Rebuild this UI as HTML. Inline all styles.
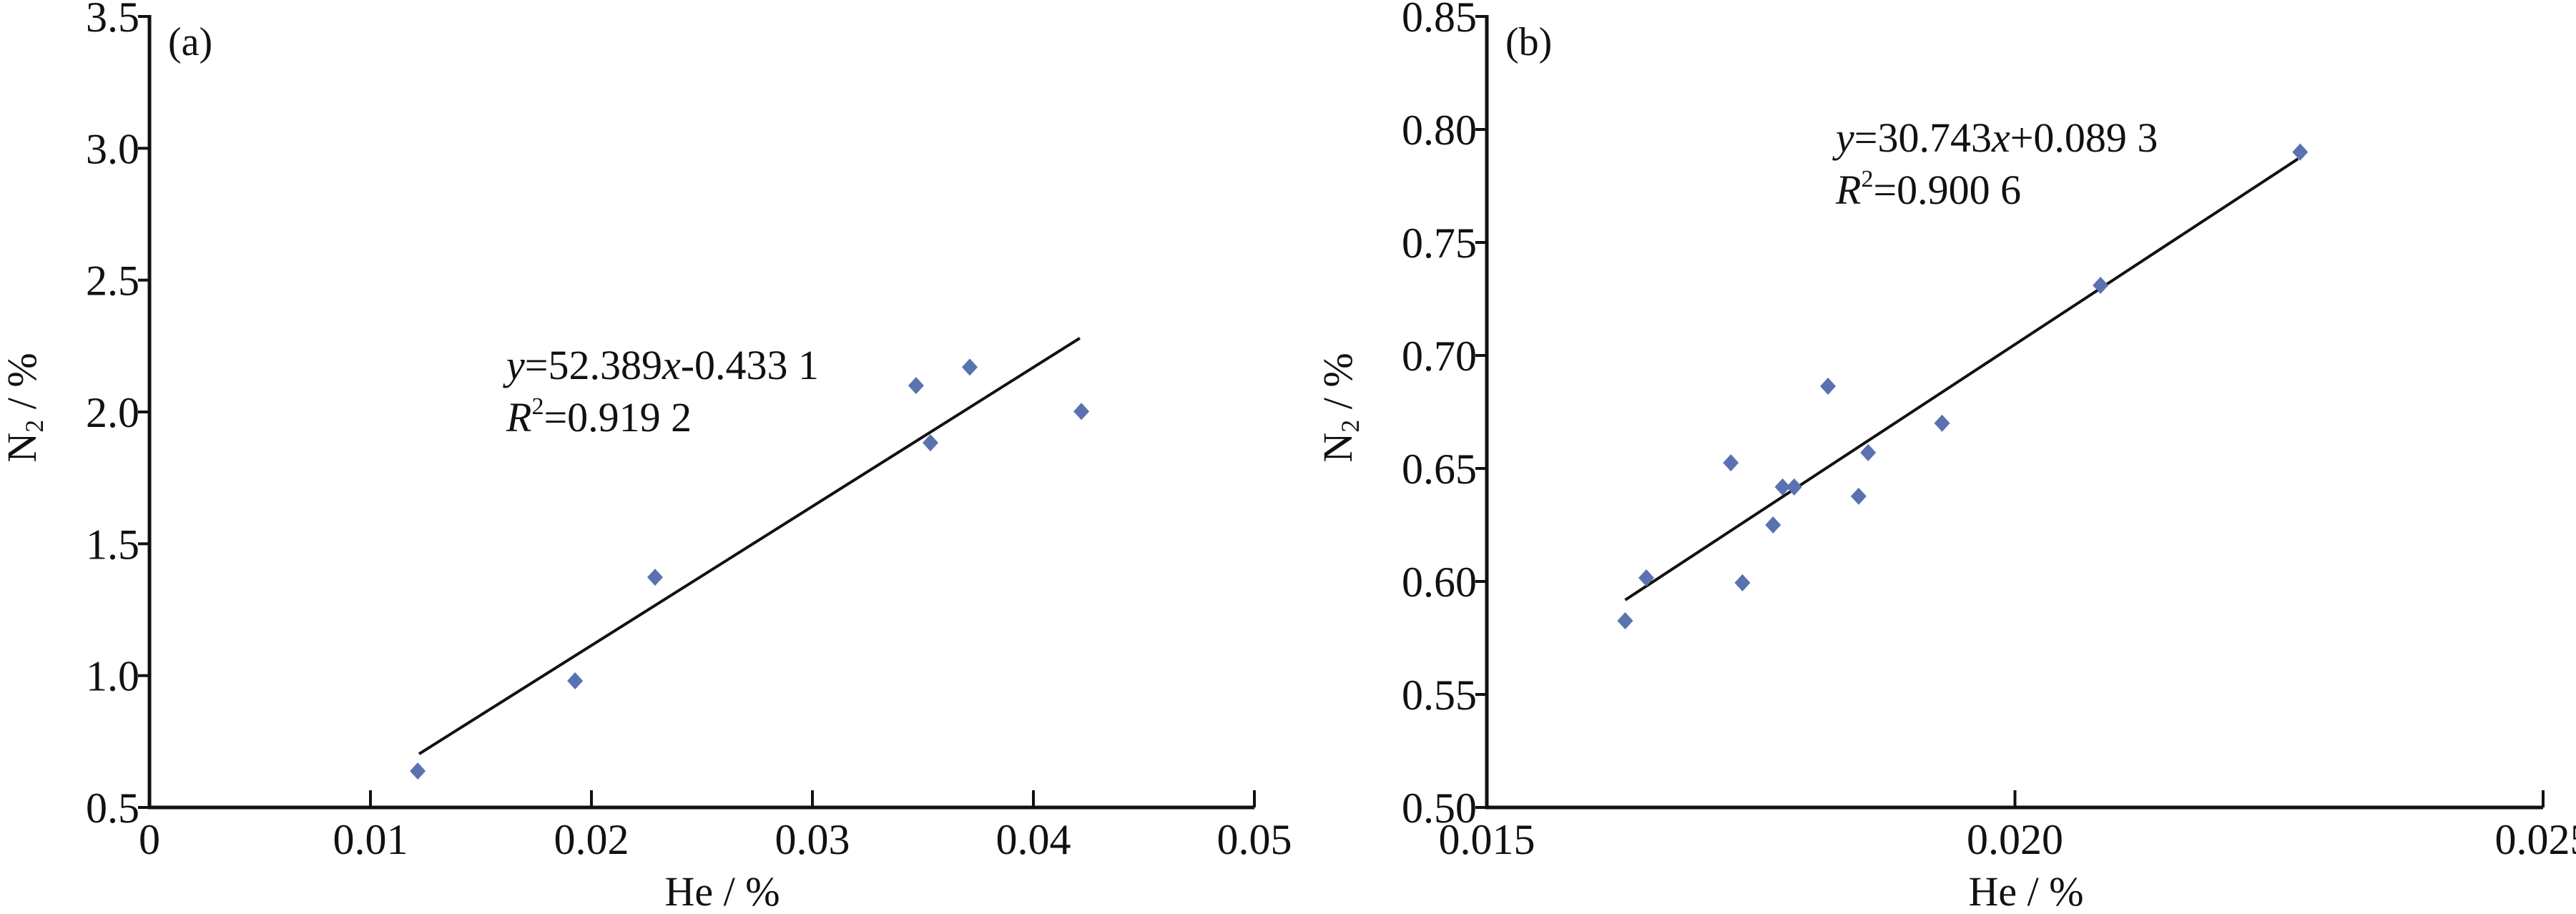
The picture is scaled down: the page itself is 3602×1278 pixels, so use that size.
<!DOCTYPE html>
<html><head><meta charset="utf-8"><style>
html,body{margin:0;padding:0;background:#fff}
svg{display:block}
text{font-family:"Liberation Serif",serif;fill:#111}
</style></head><body>
<svg id="chart" width="3602" height="1278" viewBox="0 0 3602 1278"></svg>
<script>
// Panel (a)
const aHe=[0.01214,0.01926,0.02288,0.03469,0.03534,0.03712,0.04217];
const aN2=[0.638,0.98,1.373,2.10,1.883,2.17,2.002];
const aFitX=[0.0122,0.0421];
const aFitY=[0.703,2.28];
const aXTicks=[0,0.01,0.02,0.03,0.04,0.05];
const aXLabels=["0","0.01","0.02","0.03","0.04","0.05"];
const aYTicks=[0.5,1.0,1.5,2.0,2.5,3.0,3.5];
const aYLabels=["0.5","1.0","1.5","2.0","2.5","3.0","3.5"];
// Panel (b)
const bHe=[0.01631,0.01651,0.01731,0.01742,0.01771,0.01780,0.01791,0.01823,0.01852,0.01861,0.01931,0.02081,0.02270];
const bN2=[0.5826,0.6016,0.6525,0.5994,0.625,0.6418,0.6418,0.6864,0.6377,0.657,0.670,0.731,0.790];
const bFitX=[0.01631,0.02268];
const bFitY=[0.5918,0.787];
const bXTicks=[0.015,0.020,0.025];
const bXLabels=["0.015","0.020","0.025"];
const bYTicks=[0.50,0.55,0.60,0.65,0.70,0.75,0.80,0.85];
const bYLabels=["0.50","0.55","0.60","0.65","0.70","0.75","0.80","0.85"];

const NS="http://www.w3.org/2000/svg";
const svg=document.getElementById('chart');
function mk(tag,attrs,parent){const e=document.createElementNS(NS,tag);for(const k in attrs)e.setAttribute(k,attrs[k]);(parent||svg).appendChild(e);return e;}

function panel(cfg){
  const g=mk('g',{});
  
  
  const sx=v=>cfg.x0+(v-cfg.xmin)/(cfg.xmax-cfg.xmin)*(cfg.x1-cfg.x0);
  const sy=v=>cfg.y0-(v-cfg.ymin)/(cfg.ymax-cfg.ymin)*(cfg.y0-cfg.y1);
  // axes
  const ax=mk('path',{d:`M${cfg.x0},${cfg.y1-2} L${cfg.x0},${cfg.y0} L${cfg.x1},${cfg.y0}`,fill:'none',stroke:'#111','stroke-width':5},g);
  
  
  cfg.xt.forEach((v,i)=>{
    const X=sx(v);
    if(i>0){const t=mk('line',{x1:X,x2:X,y1:cfg.y0,y2:cfg.y0-24,stroke:'#111','stroke-width':4},g);
    
    }
    const l=mk('text',{x:X,y:1194,'font-size':60,'text-anchor':'middle'},g);
    l.textContent=cfg.xl[i];
    
    
  });
  cfg.yt.forEach((v,i)=>{
    const Y=sy(v);
    const t=mk('line',{x1:cfg.x0,x2:cfg.x0-16,y1:Y,y2:Y,stroke:'#111','stroke-width':4},g);
    
    
    const l=mk('text',{x:cfg.x0-14,y:Y+21,'font-size':60,'text-anchor':'end'},g);
    l.textContent=cfg.yl[i];
    
    
  });
  // fit line
  const fl=mk('line',{x1:sx(cfg.fx[0]),y1:sy(cfg.fy[0]),x2:sx(cfg.fx[1]),y2:sy(cfg.fy[1]),stroke:'#111','stroke-width':4},g);
  
  
  // points
  cfg.px.forEach((v,i)=>{
    const X=sx(v),Y=sy(cfg.py[i]);
    const p=mk('path',{d:`M${X},${Y-12} L${X+11},${Y} L${X},${Y+12} L${X-11},${Y} Z`,fill:'#5a72b0'},g);
    
    
  });
  // labels
  const pl=mk('text',{x:cfg.x0+26,y:77,'font-size':56},g);
  pl.textContent=cfg.tag;
  
  
  const xl=mk('text',{x:cfg.xlabX,y:1266,'font-size':58,'text-anchor':'middle'},g);
  xl.textContent='He / %';
  
  
  const yl=mk('text',{x:0,y:0,'font-size':58,'text-anchor':'middle',transform:`translate(${cfg.ylabX},570) rotate(-90)`},g);
  yl.innerHTML='N<tspan font-size="36" dy="10">2</tspan><tspan dy="-10"> / %</tspan>';
  
  
  const e1=mk('text',{x:cfg.eqX,y:cfg.eqY,'font-size':58},g);
  e1.innerHTML=cfg.eq;
  
  
  const e2=mk('text',{x:cfg.eqX,y:cfg.eqY+73,'font-size':58},g);
  e2.innerHTML='<tspan font-style="italic">R</tspan><tspan font-size="34" dy="-24">2</tspan><tspan dy="24">='+cfg.r2+'</tspan>';
  
  
}
panel({id:'chart-a',tag:'(a)',x0:209,x1:1754,y0:1129,y1:23,xmin:0,xmax:0.05,ymin:0.5,ymax:3.5,
  xt:aXTicks,xl:aXLabels,yt:aYTicks,yl:aYLabels,px:aHe,py:aN2,fx:aFitX,fy:aFitY,
  xlabX:1010,ylabX:50,eqX:708,eqY:530,
  eq:'<tspan font-style="italic">y</tspan>=52.389<tspan font-style="italic">x</tspan>-0.433 1',r2:'0.919 2'});
panel({id:'chart-b',tag:'(b)',x0:2079,x1:3556,y0:1129,y1:23,xmin:0.015,xmax:0.025,ymin:0.5,ymax:0.85,
  xt:bXTicks,xl:bXLabels,yt:bYTicks,yl:bYLabels,px:bHe,py:bN2,fx:bFitX,fy:bFitY,
  xlabX:2833,ylabX:1890,eqX:2567,eqY:212,
  eq:'<tspan font-style="italic">y</tspan>=30.743<tspan font-style="italic">x</tspan>+0.089 3',r2:'0.900 6'});
</script>
</body></html>
